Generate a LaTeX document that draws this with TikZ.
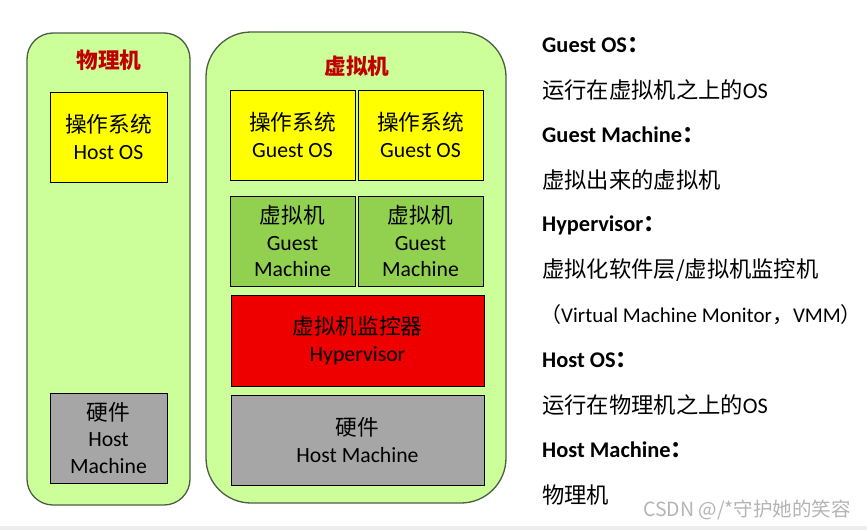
\documentclass[tikz,border=0pt]{standalone}
\usepackage{fontspec}
\setmainfont{Carlito}
\newfontfamily\cjk{Noto Sans CJK SC}
\newcommand\zh[1]{{\cjk #1}}
\definecolor{panelfill}{HTML}{CCFF99}
\definecolor{panelline}{HTML}{4D5D44}
\definecolor{titlered}{HTML}{C00000}
\definecolor{osyellow}{HTML}{FFFF00}
\definecolor{vmgreen}{HTML}{92D050}
\definecolor{hvred}{HTML}{EE0000}
\definecolor{hwgray}{HTML}{A6A6A6}
\definecolor{wmgray}{HTML}{B4B4B4}
\begin{document}
\begin{tikzpicture}[x=1pt,y=-1pt,
  panel/.style={draw=panelline,line width=1.3pt,fill=panelfill,inner sep=0pt,outer sep=0pt},
  layer/.style={draw=black,line width=0.9pt,inner sep=0pt,outer sep=0pt,align=center,
    font=\fontsize{21.7}{26.5}\selectfont},
  ptitle/.style={text=titlered,font=\fontsize{21.7}{24}\selectfont\cjk\bfseries,inner sep=0pt},
  term/.style={anchor=west,inner sep=0pt,font=\fontsize{22.4}{24}\selectfont\bfseries},
  desc/.style={anchor=west,inner sep=0pt,font=\fontsize{22.3}{24}\selectfont}]
\useasboundingbox (0,0) rectangle (867,530);
\fill[white] (0,0) rectangle (867,530);
\fill[black!7] (0,526) rectangle (867,530);
% left panel
\node[panel,rounded corners=26pt,minimum width=163pt,minimum height=472pt] (phys) at (108.5,269) {};
\node[ptitle] (physT) at (109,60) {物理机};
\node[layer,fill=osyellow,minimum width=117pt,minimum height=90pt] (hostos) at (108.5,137) {\zh{操作系统}\\Host OS};
\node[layer,fill=hwgray,minimum width=117pt,minimum height=90pt] (hw1) at (108.5,438) {\zh{硬件}\\Host\\Machine};
% right panel
\node[panel,rounded corners=45pt,minimum width=300pt,minimum height=471pt] (virt) at (356,267.5) {};
\node[ptitle] (virtT) at (357,66) {虚拟机};
\node[layer,fill=osyellow,minimum width=125pt,minimum height=90pt] (gos1) at (292.5,135) {\zh{操作系统}\\Guest OS};
\node[layer,fill=osyellow,minimum width=125pt,minimum height=90pt] (gos2) at (420.5,135) {\zh{操作系统}\\Guest OS};
\node[layer,fill=vmgreen,minimum width=125pt,minimum height=90pt] (vm1) at (292.5,241) {\zh{虚拟机}\\Guest\\Machine};
\node[layer,fill=vmgreen,minimum width=125pt,minimum height=90pt] (vm2) at (420.5,241) {\zh{虚拟机}\\Guest\\Machine};
\node[layer,fill=hvred,minimum width=253pt,minimum height=91pt] (hv) at (357.5,340.5) {\zh{虚拟机监控器}\\Hypervisor};
\node[layer,fill=hwgray,minimum width=253pt,minimum height=90pt] (hw2) at (357.5,440) {\zh{硬件}\\Host Machine};
% glossary
\node[term] (t1) at (542,45) {Guest OS\zh{：}};
\node[desc] (d1) at (542,90) {\zh{运行在虚拟机之上的}OS};
\node[term] (t2) at (542,135) {Guest Machine\zh{：}};
\node[desc] (d2) at (542,180) {\zh{虚拟出来的虚拟机}};
\node[term] (t3) at (542,225) {Hypervisor\zh{：}};
\node[desc] (d3) at (542,270) {\zh{虚拟化软件层/虚拟机监控机}};
\node[desc,font=\fontsize{21}{24}\selectfont] (d3b) at (540,315) {\zh{（}Virtual Machine Monitor\zh{，}VMM\zh{）}};
\node[term] (t4) at (542,360) {Host OS\zh{：}};
\node[desc] (d4) at (542,405) {\zh{运行在物理机之上的}OS};
\node[term] (t5) at (542,450) {Host Machine\zh{：}};
\node[desc] (d5) at (542,495) {\zh{物理机}};
% watermark
\node[anchor=east,inner sep=0pt,text=wmgray,font=\fontsize{19.5}{22}\selectfont\cjk] (wm) at (851,510) {CSDN @/*守护她的笑容};
\end{tikzpicture}
\end{document}
